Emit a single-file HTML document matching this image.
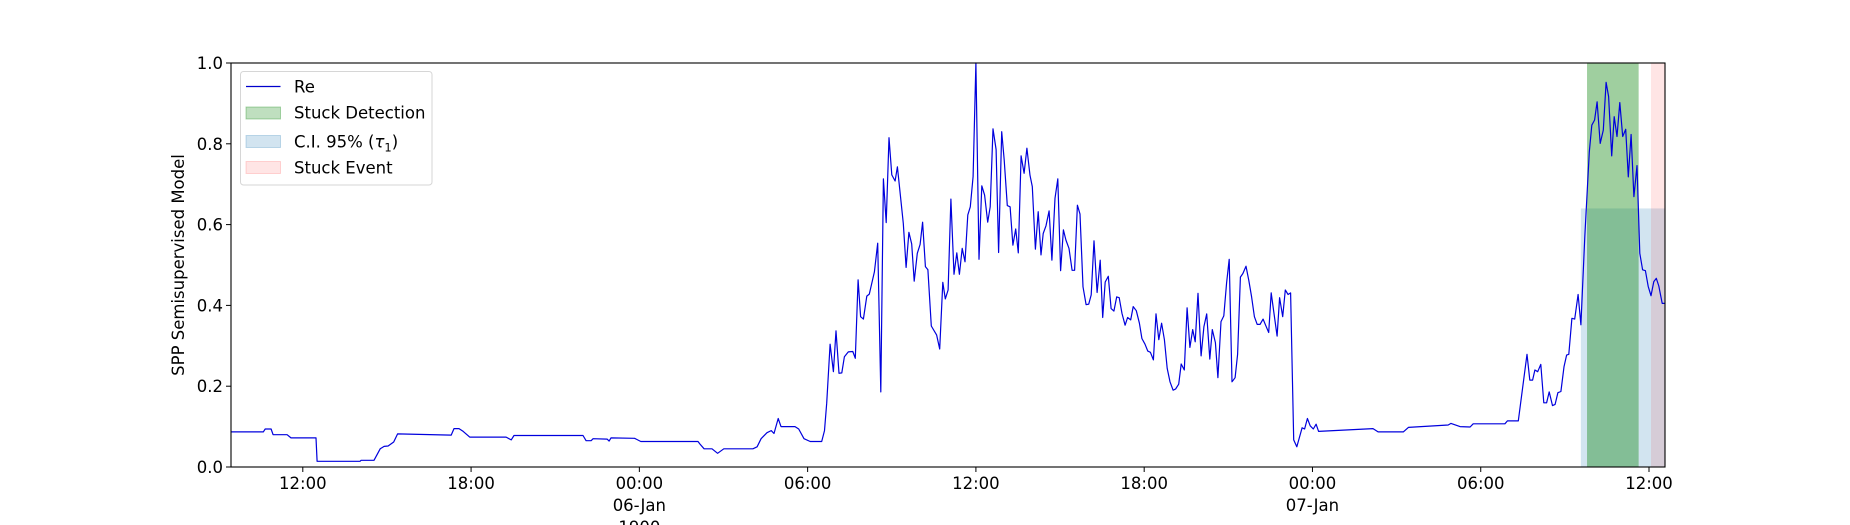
<!DOCTYPE html>
<html><head><meta charset="utf-8"><style>
html,body{margin:0;padding:0;background:#fff;}
svg{display:block;font-family:"DejaVu Sans","Liberation Sans",sans-serif;}
</style></head><body>
<svg id="chart" width="1850" height="525" viewBox="0 0 1850 525">
<rect width="1850" height="525" fill="#fff"/>
<g id="shades"></g>
<g id="series"></g>
<g id="axes"></g>
<text x="184" y="265" transform="rotate(-90 184 265)" text-anchor="middle" font-size="16.5" fill="#000">SPP Semisupervised Model</text>
<g>
<rect x="240.5" y="71.5" width="191.5" height="113.5" rx="3" fill="#fff" fill-opacity="0.8" stroke="#d6d6d6"/>
<line x1="246" y1="86.5" x2="280.5" y2="86.5" stroke="#0000cc" stroke-width="1.2"/>
<text x="294" y="92.5" font-size="16.5">Re</text>
<rect x="246" y="107" width="34.5" height="12" fill="rgba(0,128,0,0.25)" stroke="rgba(0,128,0,0.3)"/>
<text x="294" y="118.5" font-size="16.5">Stuck Detection</text>
<rect x="246" y="135.5" width="34.5" height="12" fill="rgba(31,119,180,0.2)" stroke="rgba(31,119,180,0.25)"/>
<text x="294" y="147.5" font-size="16.5">C.I. 95% (<tspan font-style="italic">τ</tspan><tspan font-size="11.5" dy="4">1</tspan><tspan dy="-4">)</tspan></text>
<rect x="246" y="161.5" width="34.5" height="12" fill="rgba(255,0,0,0.1)" stroke="rgba(255,0,0,0.15)"/>
<text x="294" y="173.5" font-size="16.5">Stuck Event</text>
</g>
</svg>
<script>
// hours since 05-Jan 00:00
const times = [9.44,10.59,10.66,10.87,10.94,11.44,11.58,12.47,12.51,14.04,14.08,14.54,14.76,14.90,15.04,15.24,15.38,17.29,17.39,17.57,17.72,17.95,19.25,19.43,19.53,21.99,22.10,22.28,22.35,22.85,22.92,22.99,23.83,24.05,26.09,26.16,26.31,26.59,26.79,27.01,28.05,28.20,28.34,28.55,28.70,28.80,28.95,29.05,29.55,29.68,29.87,30.09,30.50,30.60,30.68,30.80,30.92,31.01,31.12,31.22,31.31,31.45,31.61,31.70,31.80,31.89,31.99,32.11,32.20,32.38,32.50,32.61,32.70,32.80,32.90,33.00,33.12,33.20,33.41,33.51,33.61,33.71,33.80,33.91,34.01,34.10,34.20,34.29,34.41,34.60,34.71,34.82,34.91,35.01,35.11,35.22,35.32,35.41,35.51,35.61,35.71,35.80,35.90,36.00,36.11,36.21,36.31,36.42,36.51,36.61,36.72,36.81,36.92,37.01,37.12,37.22,37.32,37.42,37.51,37.61,37.72,37.82,37.93,38.01,38.12,38.22,38.32,38.40,38.50,38.61,38.71,38.82,38.92,39.02,39.12,39.21,39.32,39.43,39.52,39.62,39.71,39.82,39.93,40.02,40.11,40.21,40.32,40.43,40.52,40.61,40.72,40.82,40.92,41.02,41.11,41.21,41.32,41.41,41.52,41.61,41.72,41.83,41.92,42.03,42.13,42.22,42.33,42.42,42.52,42.62,42.72,42.82,42.92,43.03,43.12,43.23,43.32,43.43,43.53,43.63,43.73,43.82,43.92,44.03,44.13,44.23,44.34,44.43,44.54,44.63,44.74,44.84,44.94,45.03,45.13,45.24,45.33,45.43,45.52,45.63,45.73,45.83,45.93,46.03,46.13,46.24,46.33,46.44,46.53,46.63,46.74,46.83,46.94,47.03,47.13,47.22,47.33,47.44,47.53,47.63,47.72,47.82,47.92,48.03,48.13,48.22,50.16,50.34,51.24,51.42,52.84,52.94,53.26,53.62,53.73,54.86,54.95,55.34,55.65,55.75,55.85,55.93,56.03,56.14,56.25,56.35,56.44,56.56,56.65,56.75,56.86,56.97,57.06,57.14,57.25,57.35,57.47,57.57,57.71,57.87,57.96,58.06,58.15,58.26,58.37,58.47,58.56,58.67,58.76,58.86,58.96,59.06,59.17,59.26,59.36,59.46,59.57,59.67,59.77,59.87,59.97,60.07,60.17,60.26,60.35,60.47,60.57];
const reValues = [0.087,0.087,0.094,0.094,0.08,0.08,0.072,0.072,0.014,0.014,0.0165,0.0165,0.045,0.051,0.052,0.062,0.082,0.079,0.095,0.095,0.088,0.074,0.074,0.067,0.078,0.078,0.065,0.065,0.07,0.069,0.064,0.072,0.071,0.063,0.063,0.057,0.045,0.045,0.034,0.045,0.045,0.05,0.07,0.085,0.09,0.083,0.12,0.1,0.1,0.094,0.07,0.063,0.063,0.09,0.158,0.304,0.236,0.337,0.232,0.233,0.273,0.285,0.286,0.269,0.463,0.372,0.366,0.423,0.428,0.483,0.554,0.186,0.713,0.605,0.815,0.723,0.708,0.743,0.603,0.494,0.581,0.552,0.46,0.529,0.551,0.606,0.496,0.488,0.349,0.327,0.292,0.457,0.416,0.438,0.663,0.477,0.53,0.477,0.541,0.508,0.624,0.644,0.719,1.0,0.514,0.696,0.673,0.606,0.644,0.837,0.786,0.531,0.83,0.76,0.647,0.644,0.549,0.589,0.53,0.77,0.727,0.789,0.722,0.694,0.539,0.632,0.525,0.578,0.597,0.634,0.512,0.665,0.713,0.486,0.587,0.562,0.541,0.487,0.487,0.648,0.626,0.446,0.402,0.403,0.426,0.56,0.432,0.512,0.37,0.458,0.472,0.392,0.386,0.421,0.419,0.38,0.351,0.37,0.364,0.397,0.387,0.356,0.318,0.304,0.287,0.284,0.265,0.379,0.315,0.356,0.315,0.244,0.211,0.19,0.193,0.205,0.255,0.24,0.394,0.296,0.34,0.31,0.43,0.275,0.347,0.379,0.267,0.34,0.308,0.221,0.36,0.374,0.456,0.514,0.211,0.221,0.279,0.47,0.479,0.497,0.462,0.421,0.372,0.353,0.353,0.366,0.351,0.333,0.431,0.38,0.324,0.419,0.372,0.438,0.427,0.431,0.067,0.05,0.072,0.097,0.094,0.12,0.102,0.094,0.106,0.088,0.095,0.087,0.087,0.098,0.104,0.108,0.1,0.099,0.107,0.107,0.114,0.114,0.279,0.215,0.215,0.24,0.236,0.254,0.159,0.159,0.186,0.152,0.155,0.184,0.187,0.248,0.277,0.279,0.368,0.366,0.427,0.352,0.57,0.78,0.846,0.859,0.904,0.801,0.834,0.952,0.917,0.77,0.867,0.818,0.902,0.818,0.836,0.718,0.823,0.669,0.746,0.529,0.488,0.486,0.447,0.424,0.459,0.467,0.448,0.405,0.405];
const xTickHours = [12,18,24,30,36,42,48,54,60];
const xTickLabels = ["12:00","18:00","00:00","06:00","12:00","18:00","00:00","06:00","12:00"];
const xTickSub = ["","","06-Jan","","","","07-Jan","",""];
const yTicks = [0,0.2,0.4,0.6,0.8,1.0];
const yTickLabels = ["0.0","0.2","0.4","0.6","0.8","1.0"];
const ciSpan = [57.57, 60.57];
const ciTop = [0.64];
const detectionSpan = [57.79, 59.63];
const eventSpan = [60.07, 60.57];

const L=231,R=1665,T=63,B=467, X0=9.44, X1=60.57;
const NS="http://www.w3.org/2000/svg";
function sx(t){return L+(t-X0)/(X1-X0)*(R-L);}
function sy(v){return B-v*(B-T);}
function mk(tag,attrs,parent){const e=document.createElementNS(NS,tag);for(const k in attrs)e.setAttribute(k,attrs[k]);parent.appendChild(e);return e;}

const shades=document.getElementById('shades');
let r=mk('rect',{x:sx(ciSpan[0]),y:sy(ciTop[0]),width:sx(ciSpan[1])-sx(ciSpan[0]),height:B-sy(ciTop[0]),fill:'rgba(31,119,180,0.2)'},shades);


r=mk('rect',{x:sx(detectionSpan[0]),y:T,width:sx(detectionSpan[1])-sx(detectionSpan[0]),height:B-T,fill:'rgba(0,128,0,0.375)'},shades);


r=mk('rect',{x:sx(eventSpan[0]),y:T,width:sx(eventSpan[1])-sx(eventSpan[0]),height:B-T,fill:'rgba(255,0,0,0.1)'},shades);



const series=document.getElementById('series');
const pts=times.map((t,i)=>sx(t).toFixed(1)+','+sy(reValues[i]).toFixed(1)).join(' ');
const line=mk('polyline',{points:pts,fill:'none',stroke:'#0000dd',"stroke-width":1.2,"stroke-linejoin":'round'},series);



const axes=document.getElementById('axes');
const frame=mk('rect',{x:L,y:T,width:R-L,height:B-T,fill:'none',stroke:'#000',"stroke-width":1.1},axes);


yTicks.forEach((v,i)=>{
  const tk=mk('line',{x1:L-5,x2:L,y1:sy(v),y2:sy(v),stroke:'#000',"stroke-width":1},axes);
  
  
  const tx=mk('text',{x:L-8,y:sy(v)+6,"text-anchor":'end',"font-size":16.5},axes);
  tx.textContent=yTickLabels[i];
  
  
});
xTickHours.forEach((h,i)=>{
  const x=sx(h);
  const tk=mk('line',{x1:x,x2:x,y1:B,y2:B+5,stroke:'#000',"stroke-width":1},axes);
  
  
  const tx=mk('text',{x:x,y:489,"text-anchor":'middle',"font-size":16.5},axes);
  tx.textContent=xTickLabels[i];
  
  
  if(xTickSub[i]){
    const s=mk('text',{x:x,y:511,"text-anchor":'middle',"font-size":16.5},axes);
    s.textContent=xTickSub[i];
    
    
  }
  if(i===2){
    const y=mk('text',{x:x,y:533,"text-anchor":'middle',"font-size":16.5},axes);
    y.textContent='1900';
    
    
  }
});
</script>
</body></html>
